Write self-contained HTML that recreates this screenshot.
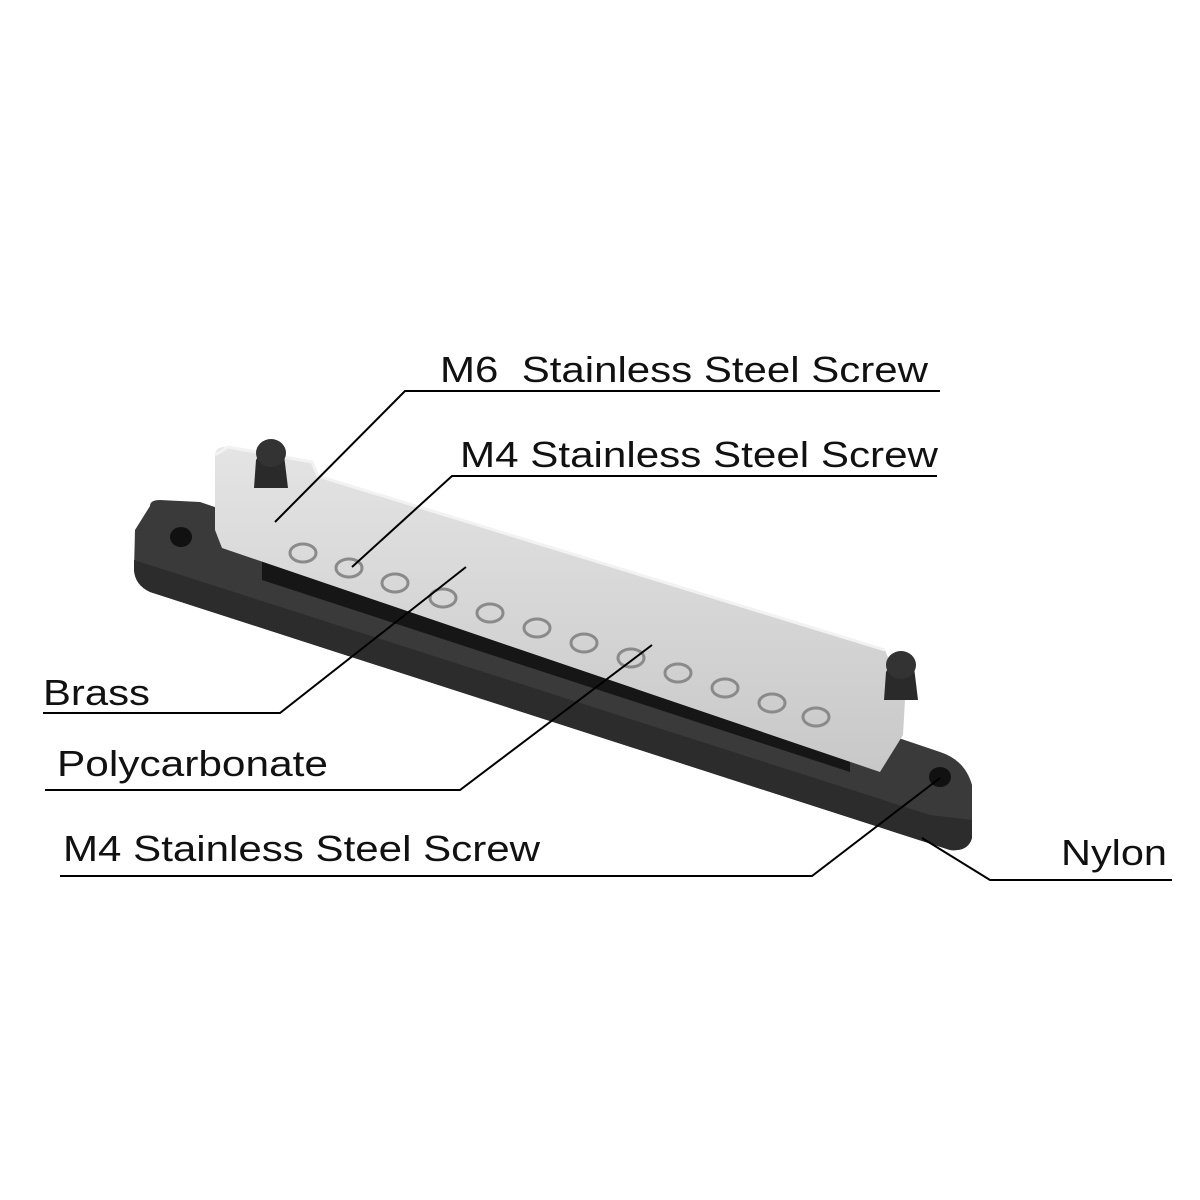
<!DOCTYPE html>
<html><head><meta charset="utf-8"><style>html,body{margin:0;background:#fff}svg{display:block}</style></head><body>
<svg width="1200" height="1200" viewBox="0 0 1200 1200" xmlns="http://www.w3.org/2000/svg">
<defs>
<linearGradient id="cov" x1="0" y1="0" x2="0" y2="1"><stop offset="0" stop-color="#e4e4e4"/><stop offset="1" stop-color="#c8c8c8"/></linearGradient>
</defs>
<!-- base -->
<path d="M150,506 Q150,500 160,500 L200,502 L940,752 Q965,760 972,785 L972,838 Q968,852 950,850 L150,592 Q135,585 134,570 L135,530 Z" fill="#3a3a3a"/>
<path d="M134,560 L930,815 L972,820 L972,838 Q968,852 950,850 L150,592 Q135,585 134,570 Z" fill="#2c2c2c"/>
<!-- slot -->
<path d="M262,548 L850,740 L850,772 L262,580 Z" fill="#161616"/>
<!-- cover -->
<path d="M215,455 Q216,446 228,447 L312,462 L318,476 L885,650 L905,700 L903,735 L880,772 L222,548 L215,530 Z" fill="url(#cov)"/>
<path d="M215,455 L228,447 L312,462 L318,476 L885,650" fill="none" stroke="#f2f2f2" stroke-width="3"/>
<!-- screws -->
<g fill="none" stroke="#8a8a8a" stroke-width="3">
<ellipse cx="303" cy="553" rx="13" ry="9"/><ellipse cx="349" cy="568" rx="13" ry="9"/><ellipse cx="395" cy="583" rx="13" ry="9"/><ellipse cx="443" cy="598" rx="13" ry="9"/><ellipse cx="490" cy="613" rx="13" ry="9"/><ellipse cx="537" cy="628" rx="13" ry="9"/><ellipse cx="584" cy="643" rx="13" ry="9"/><ellipse cx="631" cy="658" rx="13" ry="9"/><ellipse cx="678" cy="673" rx="13" ry="9"/><ellipse cx="725" cy="688" rx="13" ry="9"/><ellipse cx="772" cy="703" rx="13" ry="9"/><ellipse cx="816" cy="717" rx="13" ry="9"/>
</g>
<!-- knobs -->
<path d="M254,488 L256,460 Q268,440 284,455 L288,488 Z" fill="#2a2a2a"/>
<ellipse cx="271" cy="453" rx="15" ry="14" fill="#333"/>
<path d="M884,700 L886,672 Q898,652 914,667 L918,700 Z" fill="#2a2a2a"/>
<ellipse cx="901" cy="665" rx="15" ry="14" fill="#333"/>
<!-- holes -->
<ellipse cx="181" cy="537" rx="11" ry="10" fill="#111"/>
<ellipse cx="940" cy="777" rx="11" ry="10" fill="#111"/>
<!-- leaders -->
<g stroke="#000" stroke-width="2" fill="none">
<polyline points="940,391 405,391 275,522"/>
<polyline points="937,476 452,476 352,567"/>
<polyline points="43,713 280,713 466,567"/>
<polyline points="45,790 460,790 652,645"/>
<polyline points="60,876 812,876 940,778"/>
<polyline points="1172,880 990,880 922,838"/>
</g>
<g font-family="Liberation Sans, sans-serif" font-size="36" fill="#111">
<text x="440" y="382" textLength="488" lengthAdjust="spacingAndGlyphs" xml:space="preserve">M6  Stainless Steel Screw</text>
<text x="460" y="467" textLength="478" lengthAdjust="spacingAndGlyphs">M4 Stainless Steel Screw</text>
<text x="43" y="705" textLength="107" lengthAdjust="spacingAndGlyphs">Brass</text>
<text x="57" y="776" textLength="271" lengthAdjust="spacingAndGlyphs">Polycarbonate</text>
<text x="63" y="861" textLength="477" lengthAdjust="spacingAndGlyphs">M4 Stainless Steel Screw</text>
<text x="1061" y="865" textLength="106" lengthAdjust="spacingAndGlyphs">Nylon</text>
</g>
</svg>
</body></html>
